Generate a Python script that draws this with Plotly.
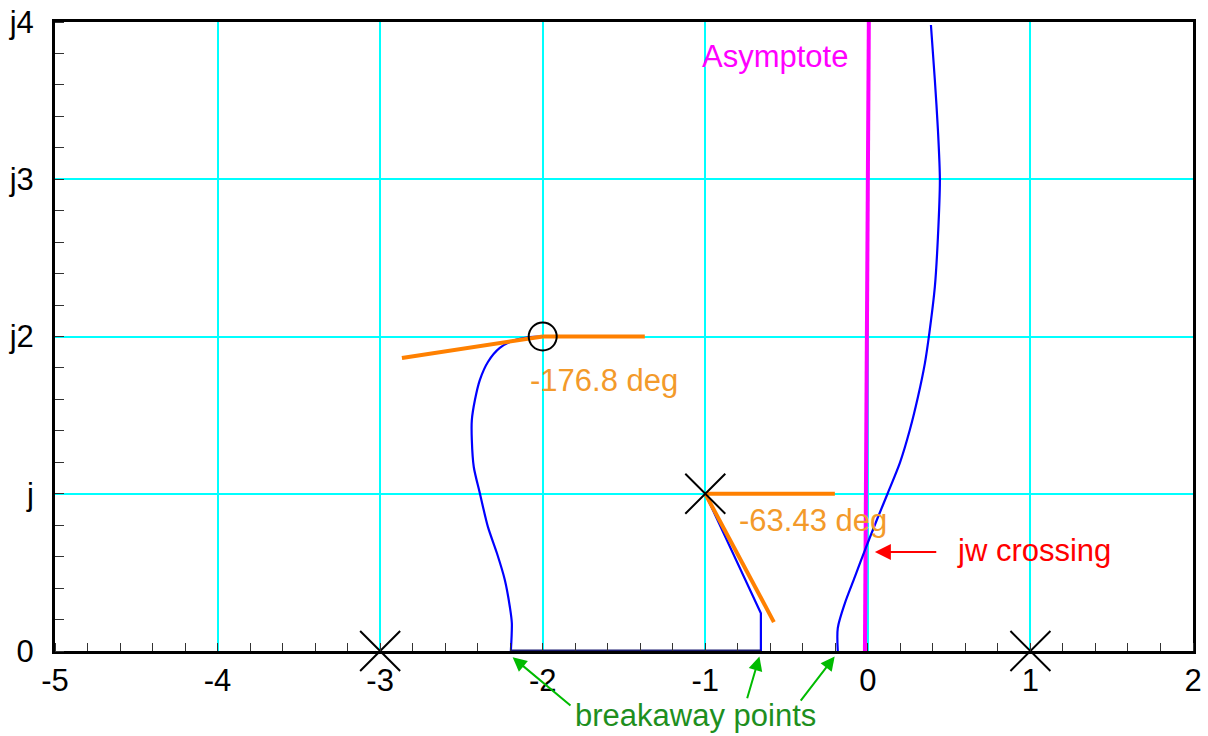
import plotly.graph_objects as go

# ---- data ----
x_ticks = [-5, -4, -3, -2, -1, 0, 1, 2]
x_tick_labels = ["-5", "-4", "-3", "-2", "-1", "0", "1", "2"]
y_ticks = [0, 1, 2, 3, 4]
y_tick_labels = ["0", "j", "j2", "j3", "j4"]
Y_MAX = 4.0

# open-loop poles (x) and zeros (o)
pole_re = [-3, 1, -1]
pole_im = [0, 0, 1]
zero_re = [-2]
zero_im = [2]

# root-locus branches
br1_re = [-2.196, -2.190, -2.202, -2.233, -2.282, -2.337, -2.387, -2.424, -2.436,
          -2.436, -2.417, -2.387, -2.337, -2.264, -2.171, -2.079, -2.018, -2.0]
br1_im = [0.0, 0.178, 0.280, 0.452, 0.623, 0.789, 1.005, 1.170, 1.342,
          1.469, 1.596, 1.723, 1.838, 1.927, 1.978, 1.997, 2.0, 2.0]
br2_re = [-1.0, -0.658, -0.658]
br2_im = [1.0, 0.24, 0.0]
br3_re = [-0.185, -0.185, -0.141, -0.080, -0.018, 0.055, 0.123, 0.197, 0.258,
          0.308, 0.351, 0.378, 0.412, 0.431, 0.443, 0.431, 0.412, 0.388]
br3_im = [0.0, 0.146, 0.305, 0.471, 0.642, 0.833, 1.005, 1.196, 1.405,
          1.615, 1.831, 2.02, 2.315, 2.633, 2.995, 3.313, 3.631, 3.981]
real_seg_re = [-2.196, -0.658]
real_seg_im = [0.0, 0.0]

# asymptote
asym_re = [-0.018, 0.006]
asym_im = [0.0, 4.0]

# departure / arrival angle construction lines
zero_h_re = [-2.0, -1.372]
zero_h_im = [2.0, 2.0]
zero_a_re = [-2.0, -2.866]
zero_a_im = [2.0, 1.863]
pole_h_re = [-1.0, -0.203]
pole_h_im = [1.0, 1.0]
pole_a_re = [-1.0, -0.578]
pole_a_im = [1.0, 0.184]

# labels: text, x, y
label_texts = ["-176.8 deg", "-63.43 deg", "Asymptote", "jw crossing", "breakaway points"]
label_x = [-2.091, -0.806, -1.033, 0.535, -1.815]
label_y = [1.72, 0.83, 3.78, 0.636, -0.41]

# arrows: head (x, y), tail (x, y)
jw_head = (0.043, 0.63)
jw_tail = (0.43, 0.63)
brk_heads = [(-2.185, -0.04), (-0.667, -0.035), (-0.204, -0.035)]
brk_tails = [(-1.82, -0.355), (-0.745, -0.31), (-0.42, -0.325)]

# ---- figure ----
BLUE = "#0000ff"
ORANGE = "#ff8000"
ORANGE_TXT = "#f39a2a"
MAGENTA = "#ff00ff"
CYAN = "#00ffff"
FONT = "Liberation Sans, Arial, sans-serif"

fig = go.Figure()

fig.add_trace(go.Scatter(x=asym_re, y=asym_im, mode="lines",
                         line=dict(color=MAGENTA, width=4), hoverinfo="skip"))
for xs, ys in [(br1_re, br1_im), (br3_re, br3_im)]:
    fig.add_trace(go.Scatter(x=xs, y=ys, mode="lines",
                             line=dict(color=BLUE, width=2.2, shape="spline",
                                       smoothing=0.8),
                             hoverinfo="skip"))
fig.add_trace(go.Scatter(x=br2_re, y=br2_im, mode="lines",
                         line=dict(color=BLUE, width=2.2), hoverinfo="skip"))
fig.add_trace(go.Scatter(x=real_seg_re, y=real_seg_im, mode="lines",
                         line=dict(color="#1a1a70", width=3), cliponaxis=False,
                         hoverinfo="skip"))
for xs, ys in [(zero_h_re, zero_h_im), (zero_a_re, zero_a_im),
               (pole_h_re, pole_h_im), (pole_a_re, pole_a_im)]:
    fig.add_trace(go.Scatter(x=xs, y=ys, mode="lines",
                             line=dict(color=ORANGE, width=4), hoverinfo="skip"))
fig.add_trace(go.Scatter(x=pole_re, y=pole_im, mode="markers", cliponaxis=False,
                         marker=dict(symbol="x-thin", size=40,
                                     line=dict(color="black", width=2)),
                         hoverinfo="skip"))
fig.add_trace(go.Scatter(x=zero_re, y=zero_im, mode="markers", cliponaxis=False,
                         marker=dict(symbol="circle-open", size=28, color="black",
                                     line=dict(color="black", width=2)),
                         hoverinfo="skip"))

colors = [ORANGE_TXT, ORANGE_TXT, MAGENTA, "#ff0000", "#1e8f1e"]
for t, x, y, c in zip(label_texts, label_x, label_y, colors):
    fig.add_annotation(x=x, y=y / Y_MAX, xref="x", yref="y domain", text=t,
                       showarrow=False, xanchor="left", yanchor="middle",
                       font=dict(family=FONT, size=31, color=c))

fig.add_annotation(x=jw_head[0], y=jw_head[1] / Y_MAX, ax=jw_tail[0],
                   ay=jw_tail[1] / Y_MAX, xref="x", yref="y domain",
                   axref="x", ayref="y domain", text="", showarrow=True,
                   arrowhead=2, arrowsize=1.6, arrowwidth=2, arrowcolor="#ff0000")
for h, tl in zip(brk_heads, brk_tails):
    fig.add_annotation(x=h[0], y=h[1] / Y_MAX, ax=tl[0], ay=tl[1] / Y_MAX,
                       xref="x", yref="y domain", axref="x", ayref="y domain",
                       text="", showarrow=True, arrowhead=2, arrowsize=1.4,
                       arrowwidth=2, arrowcolor="#00bb00")

axis_common = dict(showline=True, linecolor="black", linewidth=3, mirror=True,
                   showgrid=True, gridcolor=CYAN, gridwidth=1.5,
                   zeroline=False, ticks="", automargin=False,
                   ticklabeloverflow="allow",
                   tickfont=dict(family=FONT, size=31, color="black"))

fig.update_xaxes(range=[-5, 2], tickvals=x_ticks, ticktext=x_tick_labels,
                 minor=dict(dtick=0.2, ticks="inside", ticklen=8, tickcolor="#333",
                            showgrid=False),
                 **axis_common)
fig.update_yaxes(range=[0, 4], tickvals=y_ticks, ticktext=y_tick_labels,
                 ticklabelstandoff=12,
                 minor=dict(dtick=0.2, ticks="inside", ticklen=9, tickcolor="#333",
                            showgrid=False),
                 **axis_common)

fig.update_layout(width=1208, height=736, showlegend=False,
                  plot_bgcolor="white", paper_bgcolor="white",
                  margin=dict(l=55, r=15, t=22, b=85))

# remove the default page margin so the figure fills the window exactly
fig.write_html("out.html", config={"displayModeBar": False},
               post_script="document.body.style.margin='0';"
                           "document.body.style.overflow='hidden';")
